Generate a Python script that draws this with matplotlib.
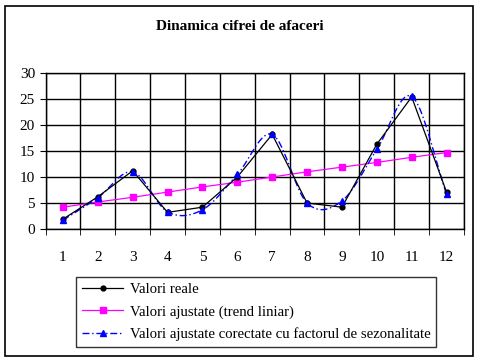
import numpy as np
import matplotlib.pyplot as plt
from matplotlib.patches import Rectangle

periods = list(range(1, 13))
valori_reale = [1.8, 6.1, 11.1, 3.1, 4.1, 9.9, 18.1, 4.9, 4.1, 16.2, 25.3, 7.0]
trend_liniar = [4.1, 5.1, 6.0, 7.0, 8.0, 8.9, 9.9, 10.9, 11.8, 12.7, 13.7, 14.6]
valori_sezon = [1.6, 5.9, 10.9, 3.2, 3.6, 10.4, 18.1, 4.9, 5.3, 15.2, 25.4, 6.6]

plt.rcParams['font.family'] = ['Liberation Serif', 'DejaVu Serif']


def smooth(x, y, n=20):
    # Catmull-Rom spline, similar to Excel's smoothed line
    x = np.asarray(x, float)
    y = np.asarray(y, float)
    px = np.concatenate([[2 * x[0] - x[1]], x, [2 * x[-1] - x[-2]]])
    py = np.concatenate([[2 * y[0] - y[1]], y, [2 * y[-1] - y[-2]]])
    xs, ys = [], []
    t = np.linspace(0, 1, n, endpoint=False)
    for i in range(1, len(px) - 2):
        for p, out in ((px, xs), (py, ys)):
            p0, p1, p2, p3 = p[i - 1], p[i], p[i + 1], p[i + 2]
            out.extend(0.5 * (2 * p1 + (-p0 + p2) * t
                              + (2 * p0 - 5 * p1 + 4 * p2 - p3) * t ** 2
                              + (-p0 + 3 * p1 - 3 * p2 + p3) * t ** 3))
    xs.append(x[-1])
    ys.append(y[-1])
    return np.array(xs), np.array(ys)


fig = plt.figure(figsize=(4.8, 3.62), dpi=100)
fig.patches.append(Rectangle((5 / 480, 6 / 362), 468 / 480, 350 / 362,
                             transform=fig.transFigure, fill=False,
                             edgecolor='black', linewidth=1.2))

ax = fig.add_axes([45.5 / 480, 1 - 228.5 / 362, 418.5 / 480, 156 / 362])

ax.plot(periods, valori_reale, color='black', linewidth=0.9, marker='o',
        markersize=3.5, label='Valori reale', zorder=4)
ax.plot(periods, trend_liniar, color='#ff00ff', linewidth=0.9, marker='s',
        markersize=4.5, label='Valori ajustate (trend liniar)', zorder=3)
sx, sy = smooth(periods, valori_sezon)
ax.plot(sx, sy, color='blue', linewidth=1.0, linestyle=(0, (5, 2, 1, 2)), zorder=3)
ax.plot(periods, valori_sezon, color='blue', linestyle='none', marker='^',
        markersize=5, zorder=5)
ax.plot([], [], color='blue', linewidth=1.0, linestyle=(0, (5, 2, 1, 2)),
        marker='^', markersize=5,
        label='Valori ajustate corectate cu factorul de sezonalitate')

ax.set_xlim(0.5, 12.5)
ax.set_ylim(0, 30)
ax.set_yticks(range(0, 31, 5))
ax.set_xticks(periods)
ax.set_xticks(np.arange(0.5, 12.6, 1), minor=True)
ax.tick_params(axis='x', which='major', length=0, pad=16, labelsize=11)
ax.tick_params(axis='x', which='minor', length=4, direction='out')
ax.tick_params(axis='y', length=4, direction='out', labelsize=11)
ax.grid(True, axis='y', color='black', linewidth=1.0)
ax.grid(True, axis='x', which='minor', color='black', linewidth=1.0)
for s in ax.spines.values():
    s.set_linewidth(1.0)

fig.text(0.5, 1 - 27 / 362, 'Dinamica cifrei de afaceri',
         ha='center', va='center', fontsize=11, fontweight='bold')

leg = fig.legend(loc='upper left', bbox_to_anchor=(76 / 480, 1 - 277 / 362),
                 frameon=True, fancybox=False, edgecolor='black',
                 fontsize=10.6, handlelength=2.8, borderpad=0.4,
                 labelspacing=0.6, handletextpad=0.45, borderaxespad=0)
leg.get_frame().set_linewidth(1.0)

fig.savefig('out.png', dpi=100)
